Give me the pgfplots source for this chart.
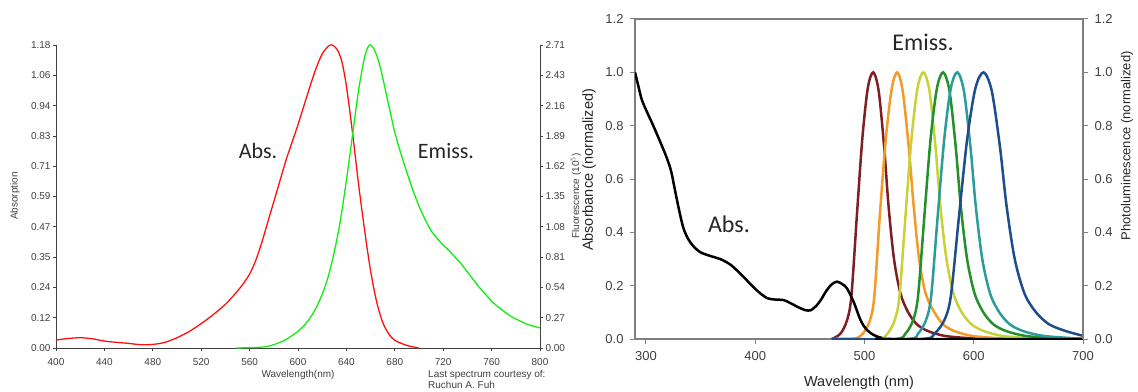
\documentclass[border=0pt]{standalone}
\usepackage{pgfplots}
\pgfplotsset{compat=1.18}
\usepackage{fontspec}
\setmainfont{Liberation Sans}
\newfontfamily\calfont{Carlito}
\definecolor{axgray}{HTML}{404040}
\definecolor{rgray}{HTML}{7F7F7F}
\definecolor{absred}{HTML}{FF1010}
\definecolor{emgreen}{HTML}{10EE10}
\definecolor{cdred}{HTML}{7E1F23}
\definecolor{corange}{HTML}{F39A2B}
\definecolor{cyellow}{HTML}{C5D336}
\definecolor{cgreen}{HTML}{23902A}
\definecolor{cteal}{HTML}{2A9D9A}
\definecolor{cnavy}{HTML}{1D4D8A}
\begin{document}
\begin{tikzpicture}[x=1bp,y=1bp]
\useasboundingbox (0,0) rectangle (1138,391);
% ---------------- Left panel ----------------
\begin{axis}[
  at={(56bp,43bp)}, anchor=south west, scale only axis,
  width=484bp, height=303bp,
  xmin=400, xmax=800, ymin=0, ymax=1.18,
  axis x line*=bottom, axis y line*=left,
  axis line style={-, draw=axgray, line width=1pt},
  every tick/.style={axgray, line width=0.8pt},
  tick align=outside, major tick length=3bp,
  xtick={400,440,480,520,560,600,640,680,720,760,800},
  xticklabels={400,440,480,520,560,600,640,680,720,760,800},
  ytick={0,0.118,0.236,0.354,0.472,0.59,0.708,0.826,0.944,1.062,1.18},
  yticklabels={0.00,0.12,0.24,0.35,0.47,0.59,0.71,0.83,0.94,1.06,1.18},
  tick label style={font=\fontsize{10bp}{12bp}\selectfont, text=axgray},
  yticklabel style={xshift=1bp},
  xticklabel style={yshift=-4bp},
  clip=false,
]
\addplot[absred, line width=1.3bp, smooth] coordinates {
(400,0.031) (410,0.037) (420,0.040) (430,0.036) (440,0.027) (450,0.022) (460,0.018)
(470,0.013) (480,0.014) (490,0.022) (500,0.040) (510,0.064) (520,0.095) (530,0.13)
(540,0.17) (545,0.195) (550,0.222) (555,0.252) (560,0.288) (565,0.34) (570,0.41)
(575,0.49) (580,0.57) (585,0.65) (590,0.73) (595,0.80) (600,0.87) (605,0.945)
(610,1.02) (615,1.09) (620,1.145) (625,1.175) (628,1.18) (632,1.165) (636,1.12)
(640,1.02) (645,0.84) (650,0.64) (655,0.46) (660,0.30) (665,0.18) (670,0.10)
(675,0.055) (680,0.03) (690,0.01) (700,0.0)
};
\end{axis}
\begin{axis}[
  at={(56bp,43bp)}, anchor=south west, scale only axis,
  width=484bp, height=303bp,
  xmin=400, xmax=800, ymin=0, ymax=2.71,
  hide x axis, axis y line*=right,
  axis line style={-, draw=axgray, line width=1pt},
  every tick/.style={axgray, line width=0.8pt},
  tick align=outside, major tick length=3bp,
  ytick={0,0.271,0.542,0.813,1.084,1.355,1.626,1.897,2.168,2.439,2.71},
  yticklabels={0.00,0.27,0.54,0.81,1.08,1.35,1.62,1.89,2.16,2.43,2.71},
  tick label style={font=\fontsize{10bp}{12bp}\selectfont, text=axgray},
  yticklabel style={xshift=-1bp},
]
\addplot[emgreen, line width=1.3bp, smooth] coordinates {
(549,0) (560,0.003) (570,0.008) (575,0.015) (580,0.03) (585,0.05) (590,0.075)
(595,0.11) (600,0.15) (605,0.20) (610,0.27) (615,0.36) (620,0.48) (625,0.64)
(630,0.86) (635,1.14) (640,1.50) (645,1.90) (650,2.30) (655,2.60) (659,2.71)
(663,2.67) (667,2.55) (671,2.37) (675,2.17) (680,1.93) (685,1.74) (690,1.57)
(695,1.41) (700,1.27) (705,1.15) (710,1.05) (715,0.98) (720,0.92) (725,0.87)
(730,0.81) (735,0.75) (740,0.68) (745,0.61) (750,0.54) (755,0.48) (760,0.42)
(765,0.37) (770,0.33) (775,0.29) (780,0.26) (790,0.21) (800,0.18)
};
\end{axis}
% ---------------- Right panel ----------------
\begin{axis}[
  at={(635bp,52bp)}, anchor=south west, scale only axis,
  width=448bp, height=320bp,
  xmin=290, xmax=700, ymin=0, ymax=1.2,
  axis line style={-, draw=rgray, line width=1.2pt},
  every tick/.style={rgray, line width=1pt},
  tick align=outside, major tick length=5bp,
  xtick pos=bottom, ytick pos=left,
  xtick={300,400,500,600,700},
  xticklabels={300,400,500,600,700},
  ytick={0,0.2,0.4,0.6,0.8,1.0,1.2},
  yticklabels={0.0,0.2,0.4,0.6,0.8,1.0,1.2},
  tick label style={font=\fontsize{13bp}{15bp}\selectfont, text=axgray},
  xticklabel style={yshift=-4bp},
  yticklabel style={xshift=-3bp},
]
\addplot[cdred, line width=2.5bp, smooth] coordinates {
(470,0) (478,0.02) (484,0.07) (488,0.16) (493,0.46) (498,0.75) (503,0.94) (508,1.0)
(513,0.93) (518,0.72) (522,0.5) (527,0.3) (533,0.17) (540,0.1) (548,0.055) (558,0.03)
(573,0.012) (593,0.004) (618,0) (700,0)
};
\addplot[corange, line width=2.5bp, smooth] coordinates {
(470,0) (490,0) (498.5,0.02) (505,0.07) (509,0.16) (514,0.46) (519.5,0.75) (525,0.94)
(530,1.0) (535,0.93) (540.5,0.72) (545,0.5) (550,0.3) (556,0.17) (564,0.1) (572,0.055)
(582,0.03) (598,0.012) (619,0.004) (645,0) (700,0)
};
\addplot[cyellow, line width=2.5bp, smooth] coordinates {
(470,0) (512,0) (521,0.02) (527.6,0.07) (532,0.16) (537.5,0.46) (543,0.75) (548.5,0.94)
(554,1.0) (559.5,0.93) (565,0.72) (569.4,0.5) (575,0.3) (581.5,0.17) (589,0.1) (598,0.055)
(609,0.03) (625.5,0.012) (647.5,0.004) (675,0) (700,0)
};
\addplot[cgreen, line width=2.5bp, smooth] coordinates {
(470,0) (528,0) (537.5,0.02) (544.4,0.07) (549,0.16) (554.8,0.46) (560.5,0.75) (566.3,0.94)
(572,1.0) (577.8,0.93) (583.5,0.72) (588.1,0.5) (593.9,0.3) (600.8,0.17) (608.8,0.1) (618,0.055)
(629.5,0.03) (646.8,0.012) (669.8,0.004) (698.5,0) (700,0)
};
\addplot[cteal, line width=2.5bp, smooth] coordinates {
(470,0) (539.4,0) (549,0.02) (556.2,0.07) (561,0.16) (567,0.46) (573,0.75) (579,0.94)
(585,1.0) (591,0.93) (597,0.72) (601.8,0.5) (607.8,0.3) (615,0.17) (623.4,0.1) (633,0.055)
(645,0.03) (663,0.012) (687,0.004) (700,0.001)
};
\addplot[cnavy, line width=2.5bp, smooth] coordinates {
(470,0) (552,0) (564,0.02) (573,0.07) (579,0.16) (586.5,0.46) (594,0.75) (601.5,0.94)
(609,1.0) (616.5,0.93) (624,0.72) (630,0.5) (637.5,0.3) (646.5,0.17) (657,0.1) (669,0.055)
(684,0.03) (700,0.012)
};
\addplot[black, line width=2.5bp, smooth] coordinates {
(290,1.0) (293,0.95) (296,0.90) (300,0.86) (306.7,0.80) (313,0.74) (319,0.68) (323,0.63)
(326,0.57) (330,0.49) (334,0.42) (338,0.38) (343,0.35) (350,0.325) (360,0.31) (368,0.30)
(375,0.285) (380,0.27) (390,0.23) (398,0.196) (405,0.17) (411,0.153) (418,0.148) (426,0.146)
(432,0.135) (440,0.118) (446,0.108) (451,0.108) (456,0.125) (460,0.146) (465,0.18) (470,0.205)
(475,0.215) (480,0.205) (484,0.19) (490,0.14) (496.5,0.07) (502,0.035) (508.5,0.015)
(515,0.005) (525,0) (700,0)
};
\end{axis}
\begin{axis}[
  at={(635bp,52bp)}, anchor=south west, scale only axis,
  width=448bp, height=320bp,
  xmin=290, xmax=700, ymin=0, ymax=1.2,
  hide x axis, axis y line*=right,
  axis line style={-, draw=rgray, line width=1.2pt},
  every tick/.style={rgray, line width=1pt},
  tick align=outside, major tick length=5bp,
  ytick={0,0.2,0.4,0.6,0.8,1.0,1.2},
  yticklabels={0.0,0.2,0.4,0.6,0.8,1.0,1.2},
  tick label style={font=\fontsize{13bp}{15bp}\selectfont, text=axgray},
  yticklabel style={xshift=3bp},
]
\end{axis}
% ---------------- Texts ----------------
\node[rotate=90, font=\fontsize{10bp}{12bp}\selectfont, text=axgray] at (15,195) {Absorption};
\node[rotate=90, font=\fontsize{10bp}{12bp}\selectfont, text=axgray] at (576,195) {Fluorescence (10$^5$)};
\node[font=\fontsize{10bp}{12bp}\selectfont, text=axgray] at (298,16) {Wavelength(nm)};
\node[anchor=west, font=\fontsize{10bp}{12bp}\selectfont, text=axgray, inner sep=0pt] at (428,16) {Last spectrum courtesy of:};
\node[anchor=west, font=\fontsize{10bp}{12bp}\selectfont, text=axgray, inner sep=0pt] at (428,6) {Ruchun A. Fuh};
\node[font=\calfont\fontsize{22bp}{24bp}\selectfont, text=black!85] at (258,240) {Abs.};
\node[font=\calfont\fontsize{22bp}{24bp}\selectfont, text=black!85] at (446,240) {Emiss.};
\node[font=\calfont\fontsize{24bp}{26bp}\selectfont, text=black!85] at (729,167) {Abs.};
\node[font=\calfont\fontsize{24bp}{26bp}\selectfont, text=black!85] at (923,349) {Emiss.};
\node[rotate=90, font=\fontsize{14.5bp}{16bp}\selectfont, text=black!85] at (589,221) {Absorbance (normalized)};
\node[rotate=90, font=\fontsize{13bp}{15bp}\selectfont, text=black!85] at (1127,245) {Photoluminescence (normalized)};
\node[font=\fontsize{14.5bp}{16bp}\selectfont, text=black!85] at (859,8) {Wavelength (nm)};
\end{tikzpicture}
\end{document}
